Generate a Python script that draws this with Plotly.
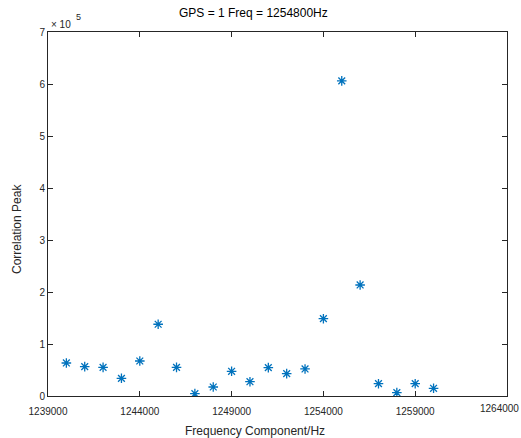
import plotly.graph_objects as go

# Frequency bins searched (Hz) and correlation peak for each bin
freq_hz = [1240000, 1241000, 1242000, 1243000, 1244000, 1245000, 1246000,
           1247000, 1248000, 1249000, 1250000, 1251000, 1252000, 1253000,
           1254000, 1255000, 1256000, 1257000, 1258000, 1259000, 1260000]
corr_peak = [63500, 56400, 55100, 34000, 67300, 138000, 55000,
             4500, 17300, 47500, 27500, 54500, 43000, 52000,
             148700, 606000, 213500, 23700, 6400, 23700, 14800]

x_ticks = [1239000, 1244000, 1249000, 1254000, 1259000, 1264000]
y_ticks = [0, 100000, 200000, 300000, 400000, 500000, 600000, 700000]
y_tick_text = ["0", "1", "2", "3", "4", "5", "6", "7"]

W, H = 521, 438
axis_color = "#262626"
font_family = "Liberation Sans, Arial, sans-serif"

fig = go.Figure()
fig.add_trace(go.Scatter(
    x=freq_hz, y=corr_peak, mode="markers",
    marker=dict(symbol="asterisk-open", size=8, color="#0072BD",
                line=dict(color="#0072BD", width=1.3)),
    showlegend=False,
))

# the last x tick label is pulled inside the figure edge separately
x_tick_text = [str(v) for v in x_ticks[:-1]] + [""]

fig.update_layout(
    width=W, height=H,
    margin=dict(l=48, r=14, t=32, b=42),
    paper_bgcolor="white", plot_bgcolor="white",
    font=dict(family=font_family, size=10, color=axis_color),
    xaxis=dict(range=[1239000, 1264000], tickvals=x_ticks,
               ticktext=x_tick_text,
               ticks="inside", ticklen=5, tickcolor=axis_color,
               ticklabelstandoff=6,
               showline=True, linecolor=axis_color, linewidth=1,
               mirror="ticks", showgrid=False, zeroline=False,
               tickfont=dict(size=10, color=axis_color)),
    yaxis=dict(range=[0, 700000], tickvals=y_ticks, ticktext=y_tick_text,
               ticks="inside", ticklen=5, tickcolor=axis_color,
               showline=True, linecolor=axis_color, linewidth=1,
               mirror="ticks", showgrid=False, zeroline=False,
               tickfont=dict(size=10, color=axis_color)),
)

def px_note(text, x, y, size, xanchor="center", yanchor="middle",
            angle=0, color=axis_color):
    fig.add_annotation(text=text, xref="paper", yref="paper",
                       x=(x - 48) / (W - 48 - 14),
                       y=(H - 42 - y) / (H - 32 - 42),
                       xanchor=xanchor, yanchor=yanchor, textangle=angle,
                       showarrow=False, font=dict(size=size, color=color))

px_note("GPS = 1 Freq = 1254800Hz", 253, 13, 12, color="black")
px_note("Frequency Component/Hz", 255, 431, 12)
px_note("Correlation Peak", 17, 229, 12, angle=-90)
px_note("1264000", 521, 408, 10, xanchor="right")
px_note("\u00d7 10", 49, 24, 10, xanchor="left")
px_note("5", 74, 17, 9, xanchor="left")

fig.write_html("out.html")
